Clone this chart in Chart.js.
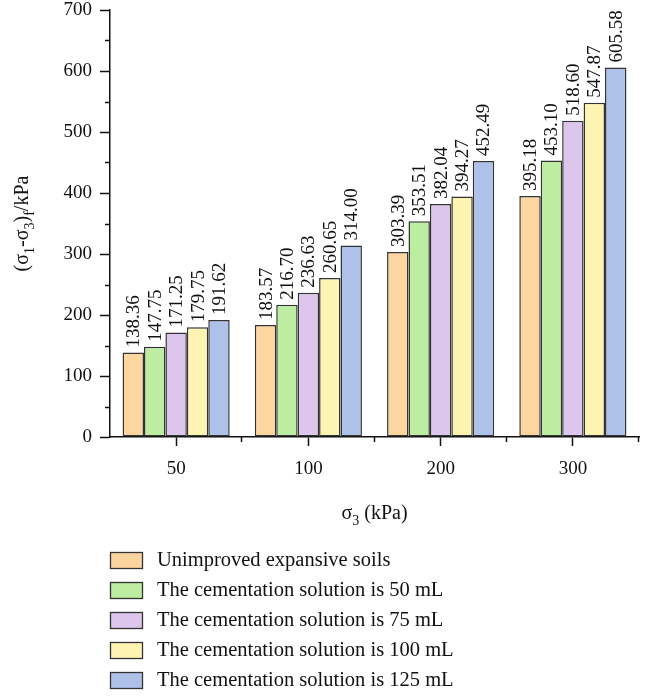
<!DOCTYPE html>
<html>
<head>
<meta charset="utf-8">
<script src="https://cdn.jsdelivr.net/npm/chart.js@4.4.0/dist/chart.umd.min.js"></script>
<style>
  html, body { margin: 0; padding: 0; background: #fff; }
  #wrap { width: 647px; height: 696px; position: relative; }
</style>
</head>
<body>
<div id="wrap"><canvas id="chart"></canvas></div>
<script>
// categories (sigma 3, kPa)
const categories = ['50', '100', '200', '300'];
const seriesNames = [
  'Unimproved expansive soils',
  'The cementation solution is 50 mL',
  'The cementation solution is 75 mL',
  'The cementation solution is 100 mL',
  'The cementation solution is 125 mL'
];
const unimproved = [138.36, 183.57, 303.39, 395.18];
const solution50 = [147.75, 216.70, 353.51, 453.10];
const solution75 = [171.25, 236.63, 382.04, 518.60];
const solution100 = [179.75, 260.65, 394.27, 547.87];
const solution125 = [191.62, 314.00, 452.49, 605.58];
const yTickValues = [0, 100, 200, 300, 400, 500, 600, 700];
const yMinorValues = [50, 150, 250, 350, 450, 550, 650];

const colors = ['#fdd59e', '#bdeda0', '#dcc6ec', '#fdf4b2', '#aec1e8'];
const FONT = "'Liberation Serif', 'DejaVu Serif', serif";

// draw text with subscripts; parts = [[text, isSub], ...]
function drawRich(ctx, parts, x, y, size) {
  const subSize = Math.round(size * 0.68);
  let total = 0;
  parts.forEach(p => {
    ctx.font = (p[1] ? subSize : size) + 'px ' + FONT;
    total += ctx.measureText(p[0]).width;
  });
  let cx = x - total / 2;
  ctx.textAlign = 'left';
  ctx.textBaseline = 'alphabetic';
  parts.forEach(p => {
    ctx.font = (p[1] ? subSize : size) + 'px ' + FONT;
    ctx.fillText(p[0], cx, y + (p[1] ? size * 0.3 : 0));
    cx += ctx.measureText(p[0]).width;
  });
}

const extras = {
  id: 'extras',
  afterDatasetsDraw(chart) {
    const ctx = chart.ctx;
    ctx.save();
    ctx.fillStyle = '#111';
    ctx.font = '19px ' + FONT;
    ctx.textAlign = 'left';
    ctx.textBaseline = 'middle';
    chart.data.datasets.forEach((ds, i) => {
      chart.getDatasetMeta(i).data.forEach((bar, j) => {
        ctx.save();
        ctx.translate(bar.x + 1, bar.y - 5);
        ctx.rotate(-Math.PI / 2);
        ctx.fillText(ds.data[j].toFixed(2), 0, 0);
        ctx.restore();
      });
    });
    ctx.restore();
  },
  afterDraw(chart) {
    const ctx = chart.ctx;
    const area = chart.chartArea;
    const ys = chart.scales.y;
    ctx.save();
    ctx.strokeStyle = '#111';
    ctx.lineWidth = 1.5;
    // minor ticks on y
    yMinorValues.forEach(v => {
      const py = Math.round(ys.getPixelForValue(v)) + 0.5;
      ctx.beginPath();
      ctx.moveTo(area.left - 5, py);
      ctx.lineTo(area.left, py);
      ctx.stroke();
    });
    // short ticks between categories on x
    const step = (area.right - area.left) / categories.length;
    for (let i = 1; i <= categories.length; i++) {
      const px = Math.round(area.left + step * i) - 0.5;
      ctx.beginPath();
      ctx.moveTo(px, area.bottom);
      ctx.lineTo(px, area.bottom + 5);
      ctx.stroke();
    }
    // axis titles
    ctx.fillStyle = '#111';
    ctx.save();
    ctx.translate(28, (area.top + area.bottom) / 2);
    ctx.rotate(-Math.PI / 2);
    drawRich(ctx, [['(σ', false], ['1', true], ['-σ', false], ['3', true], [')', false], ['f', true], ['/kPa', false]], 0, 0, 20);
    ctx.restore();
    drawRich(ctx, [['σ', false], ['3', true], [' (kPa)', false]], (area.left + area.right) / 2, 519, 20);
    // legend
    chart.data.datasets.forEach((ds, i) => {
      const cy = 560 + i * 30;
      ctx.fillStyle = ds.backgroundColor;
      ctx.fillRect(110, cy - 8, 32, 16);
      ctx.lineWidth = 1.3;
      ctx.strokeStyle = '#333';
      ctx.strokeRect(110.5, cy - 7.5, 32, 16);
      ctx.fillStyle = '#111';
      ctx.font = '20.5px ' + FONT;
      ctx.textAlign = 'left';
      ctx.textBaseline = 'middle';
      ctx.fillText(ds.label, 157, cy + 1);
    });
    ctx.restore();
  }
};

const seriesValues = [unimproved, solution50, solution75, solution100, solution125];

new Chart(document.getElementById('chart'), {
  type: 'bar',
  data: {
    labels: categories,
    datasets: seriesValues.map((vals, i) => ({
      label: seriesNames[i],
      data: vals,
      backgroundColor: colors[i],
      borderColor: '#333',
      borderWidth: 1.5,
      borderSkipped: false,
      categoryPercentage: 0.81,
      barPercentage: 1.0
    }))
  },
  options: {
    responsive: true,
    maintainAspectRatio: false,
    animation: false,
    layout: { padding: { left: 0, right: 8, top: 0, bottom: 166 } },
    plugins: {
      legend: { display: false },
      tooltip: { enabled: false }
    },
    scales: {
      x: {
        afterFit(scale) { scale.height = 93; },
        grid: {
          offset: false,
          drawOnChartArea: false,
          drawTicks: true,
          tickLength: 9,
          tickWidth: 1.5,
          tickColor: '#111'
        },
        border: { color: '#111', width: 1.5 },
        ticks: {
          color: '#111',
          padding: 12,
          font: { family: FONT, size: 19 }
        }
      },
      y: {
        min: 0,
        max: 700,
        afterFit(scale) { scale.width = 110; scale.paddingTop = 10; },
        afterBuildTicks(scale) { scale.ticks = yTickValues.map(v => ({ value: v })); },
        grid: {
          drawOnChartArea: false,
          drawTicks: true,
          tickLength: 10,
          tickWidth: 1.5,
          tickColor: '#111'
        },
        border: { color: '#111', width: 1.5 },
        ticks: {
          color: '#111',
          padding: 8,
          font: { family: FONT, size: 19 }
        }
      }
    }
  },
  plugins: [extras]
});
</script>
</body>
</html>
